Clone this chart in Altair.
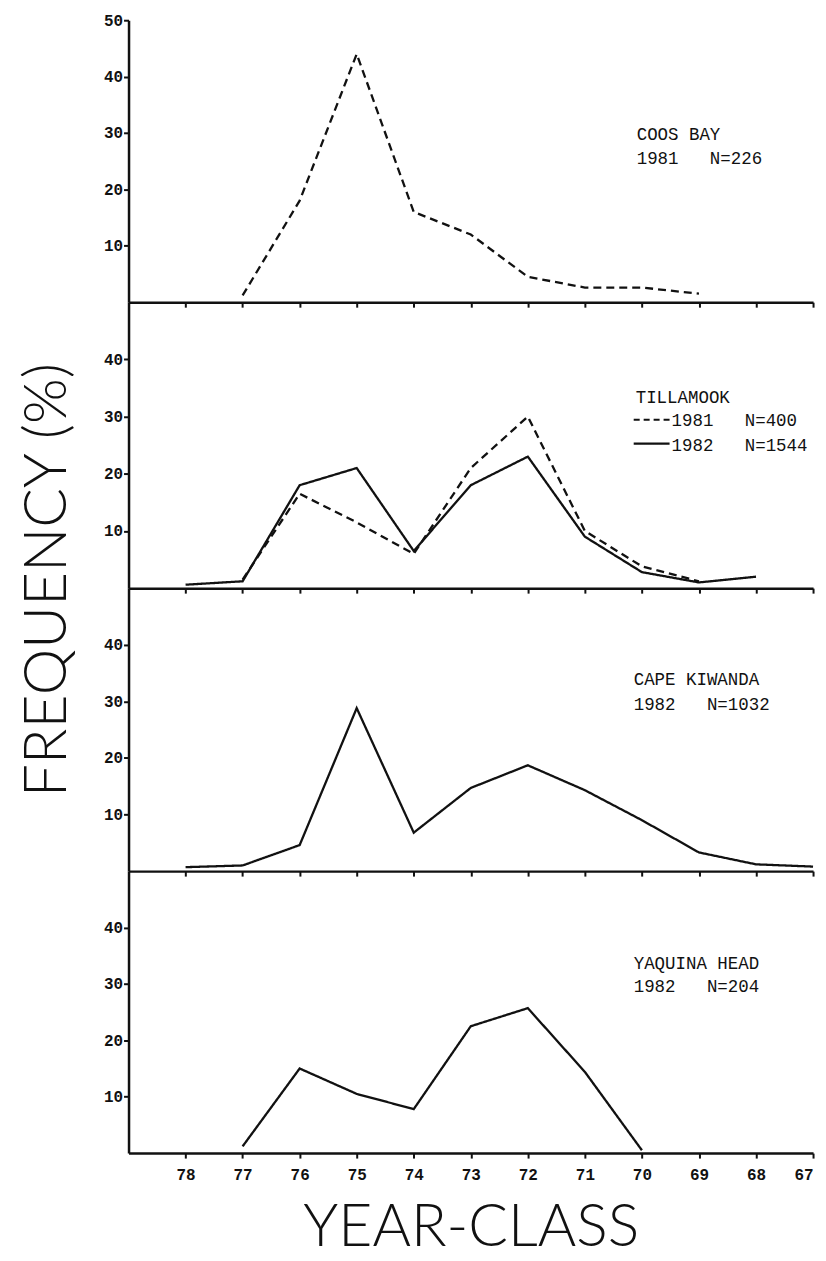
import altair as alt
import pandas as pd

# ---- data ----
tick_years = [78, 77, 76, 75, 74, 73, 72, 71, 70, 69, 68, 67]

coos_years = [77, 76, 75, 74, 73, 72, 71, 70, 69]
coos_1981 = [1.2, 18, 44, 16, 12, 4.5, 2.6, 2.6, 1.5]

till81_years = [77, 76, 75, 74, 73, 72, 71, 70, 69]
till_1981 = [1.5, 16.5, 11.5, 6, 21, 30, 10, 3.8, 1.2]

till82_years = [78, 77, 76, 75, 74, 73, 72, 71, 70, 69, 68]
till_1982 = [0.6, 1.2, 18, 21, 6.5, 18, 23, 9, 2.8, 1, 2]

cape_years = [78, 77, 76, 75, 74, 73, 72, 71, 70, 69, 68, 67]
cape_1982 = [0.7, 1.0, 4.6, 28.8, 6.8, 14.7, 18.7, 14.3, 9, 3.3, 1.2, 0.8]

yaq_years = [77, 76, 75, 74, 73, 72, 71, 70]
yaq_1982 = [1.2, 15, 10.5, 7.8, 22.5, 25.7, 14.4, 0.5]

MONO = "Liberation Mono"
BIG = "Lato"
SP = "\u00a0\u00a0\u00a0"


def frame(years, vals, series):
    return pd.DataFrame({"year": years, "pct": vals, "series": series})


def text_mark(txt, px, py):
    return alt.Chart(pd.DataFrame({"t": [txt]})).mark_text(
        font=MONO, fontSize=17.5, align="left", baseline="alphabetic", color="#111"
    ).encode(text="t:N", x=alt.value(px), y=alt.value(py))


def panel(df, height, yticks, bottom, notes):
    xaxis = alt.Axis(
        values=tick_years, format="d", labels=bottom, grid=False,
        title="YEAR-CLASS" if bottom else None,
        titleFont=BIG, titleFontSize=59, titleFontWeight=300,
        titlePadding=17, titleColor="#111", labelPadding=8,
    )
    yaxis = alt.Axis(values=yticks, title=None, grid=False, labelPadding=1)
    lines = alt.Chart(df).mark_line(color="#111", strokeWidth=2.3).encode(
        x=alt.X("year:Q", scale=alt.Scale(domain=[79, 67], nice=False, zero=False), axis=xaxis),
        y=alt.Y("pct:Q", scale=alt.Scale(domain=[0, 50], nice=False), axis=yaxis),
        strokeDash=alt.StrokeDash(
            "series:N",
            scale=alt.Scale(domain=["1981", "1982"], range=[[8, 5], [1, 0]]),
            legend=None,
        ),
        detail="series:N",
    )
    layers = [lines] + notes
    return alt.layer(*layers).properties(width=687, height=height)


def legend_rule(x1, x2, y, dash):
    return alt.Chart(pd.DataFrame({"a": [0]})).mark_rule(
        color="#111", strokeWidth=2.2, strokeDash=dash
    ).encode(x=alt.value(x1), x2=alt.value(x2), y=alt.value(y))


ytitle = alt.Chart(pd.DataFrame({"t": ["FREQUENCY (%)"]})).mark_text(
    font=BIG, fontSize=59, fontWeight=300, color="#111", angle=270,
    align="center", baseline="alphabetic",
).encode(text="t:N", x=alt.value(-63), y=alt.value(279))

p1 = panel(
    frame(coos_years, coos_1981, "1981"), 283, [10, 20, 30, 40, 50], False,
    [text_mark("COOS BAY", 510, 120), text_mark("1981" + SP + "N=226", 510, 144)],
)

till_df = pd.concat([frame(till81_years, till_1981, "1981"), frame(till82_years, till_1982, "1982")])
p2 = panel(
    till_df, 287, [10, 20, 30, 40], False,
    [
        text_mark("TILLAMOOK", 509, 101),
        legend_rule(507, 543, 118, [6, 4]),
        text_mark("1981" + SP + "N=400", 545, 124),
        legend_rule(507, 543, 142, [1, 0]),
        text_mark("1982" + SP + "N=1544", 545, 149),
        ytitle,
    ],
)

p3 = panel(
    frame(cape_years, cape_1982, "1982"), 284, [10, 20, 30, 40], False,
    [text_mark("CAPE KIWANDA", 507, 97), text_mark("1982" + SP + "N=1032", 507, 122)],
)

p4 = panel(
    frame(yaq_years, yaq_1982, "1982"), 283, [10, 20, 30, 40], True,
    [text_mark("YAQUINA HEAD", 507, 98), text_mark("1982" + SP + "N=204", 507, 121)],
)

chart = alt.vconcat(p1, p2, p3, p4, spacing=0, bounds="flush").properties(
    padding={"left": 18, "top": 10, "right": 8, "bottom": 0},
    background="white",
).configure_view(stroke=None).configure_axis(
    domainColor="#111", domainWidth=2.5, tickColor="#111", tickWidth=2, tickSize=5,
    labelFont=MONO, labelFontSize=16, labelFontWeight="bold", labelColor="#111",
)

chart.save("out.html", embed_options={"renderer": "svg", "actions": False})
